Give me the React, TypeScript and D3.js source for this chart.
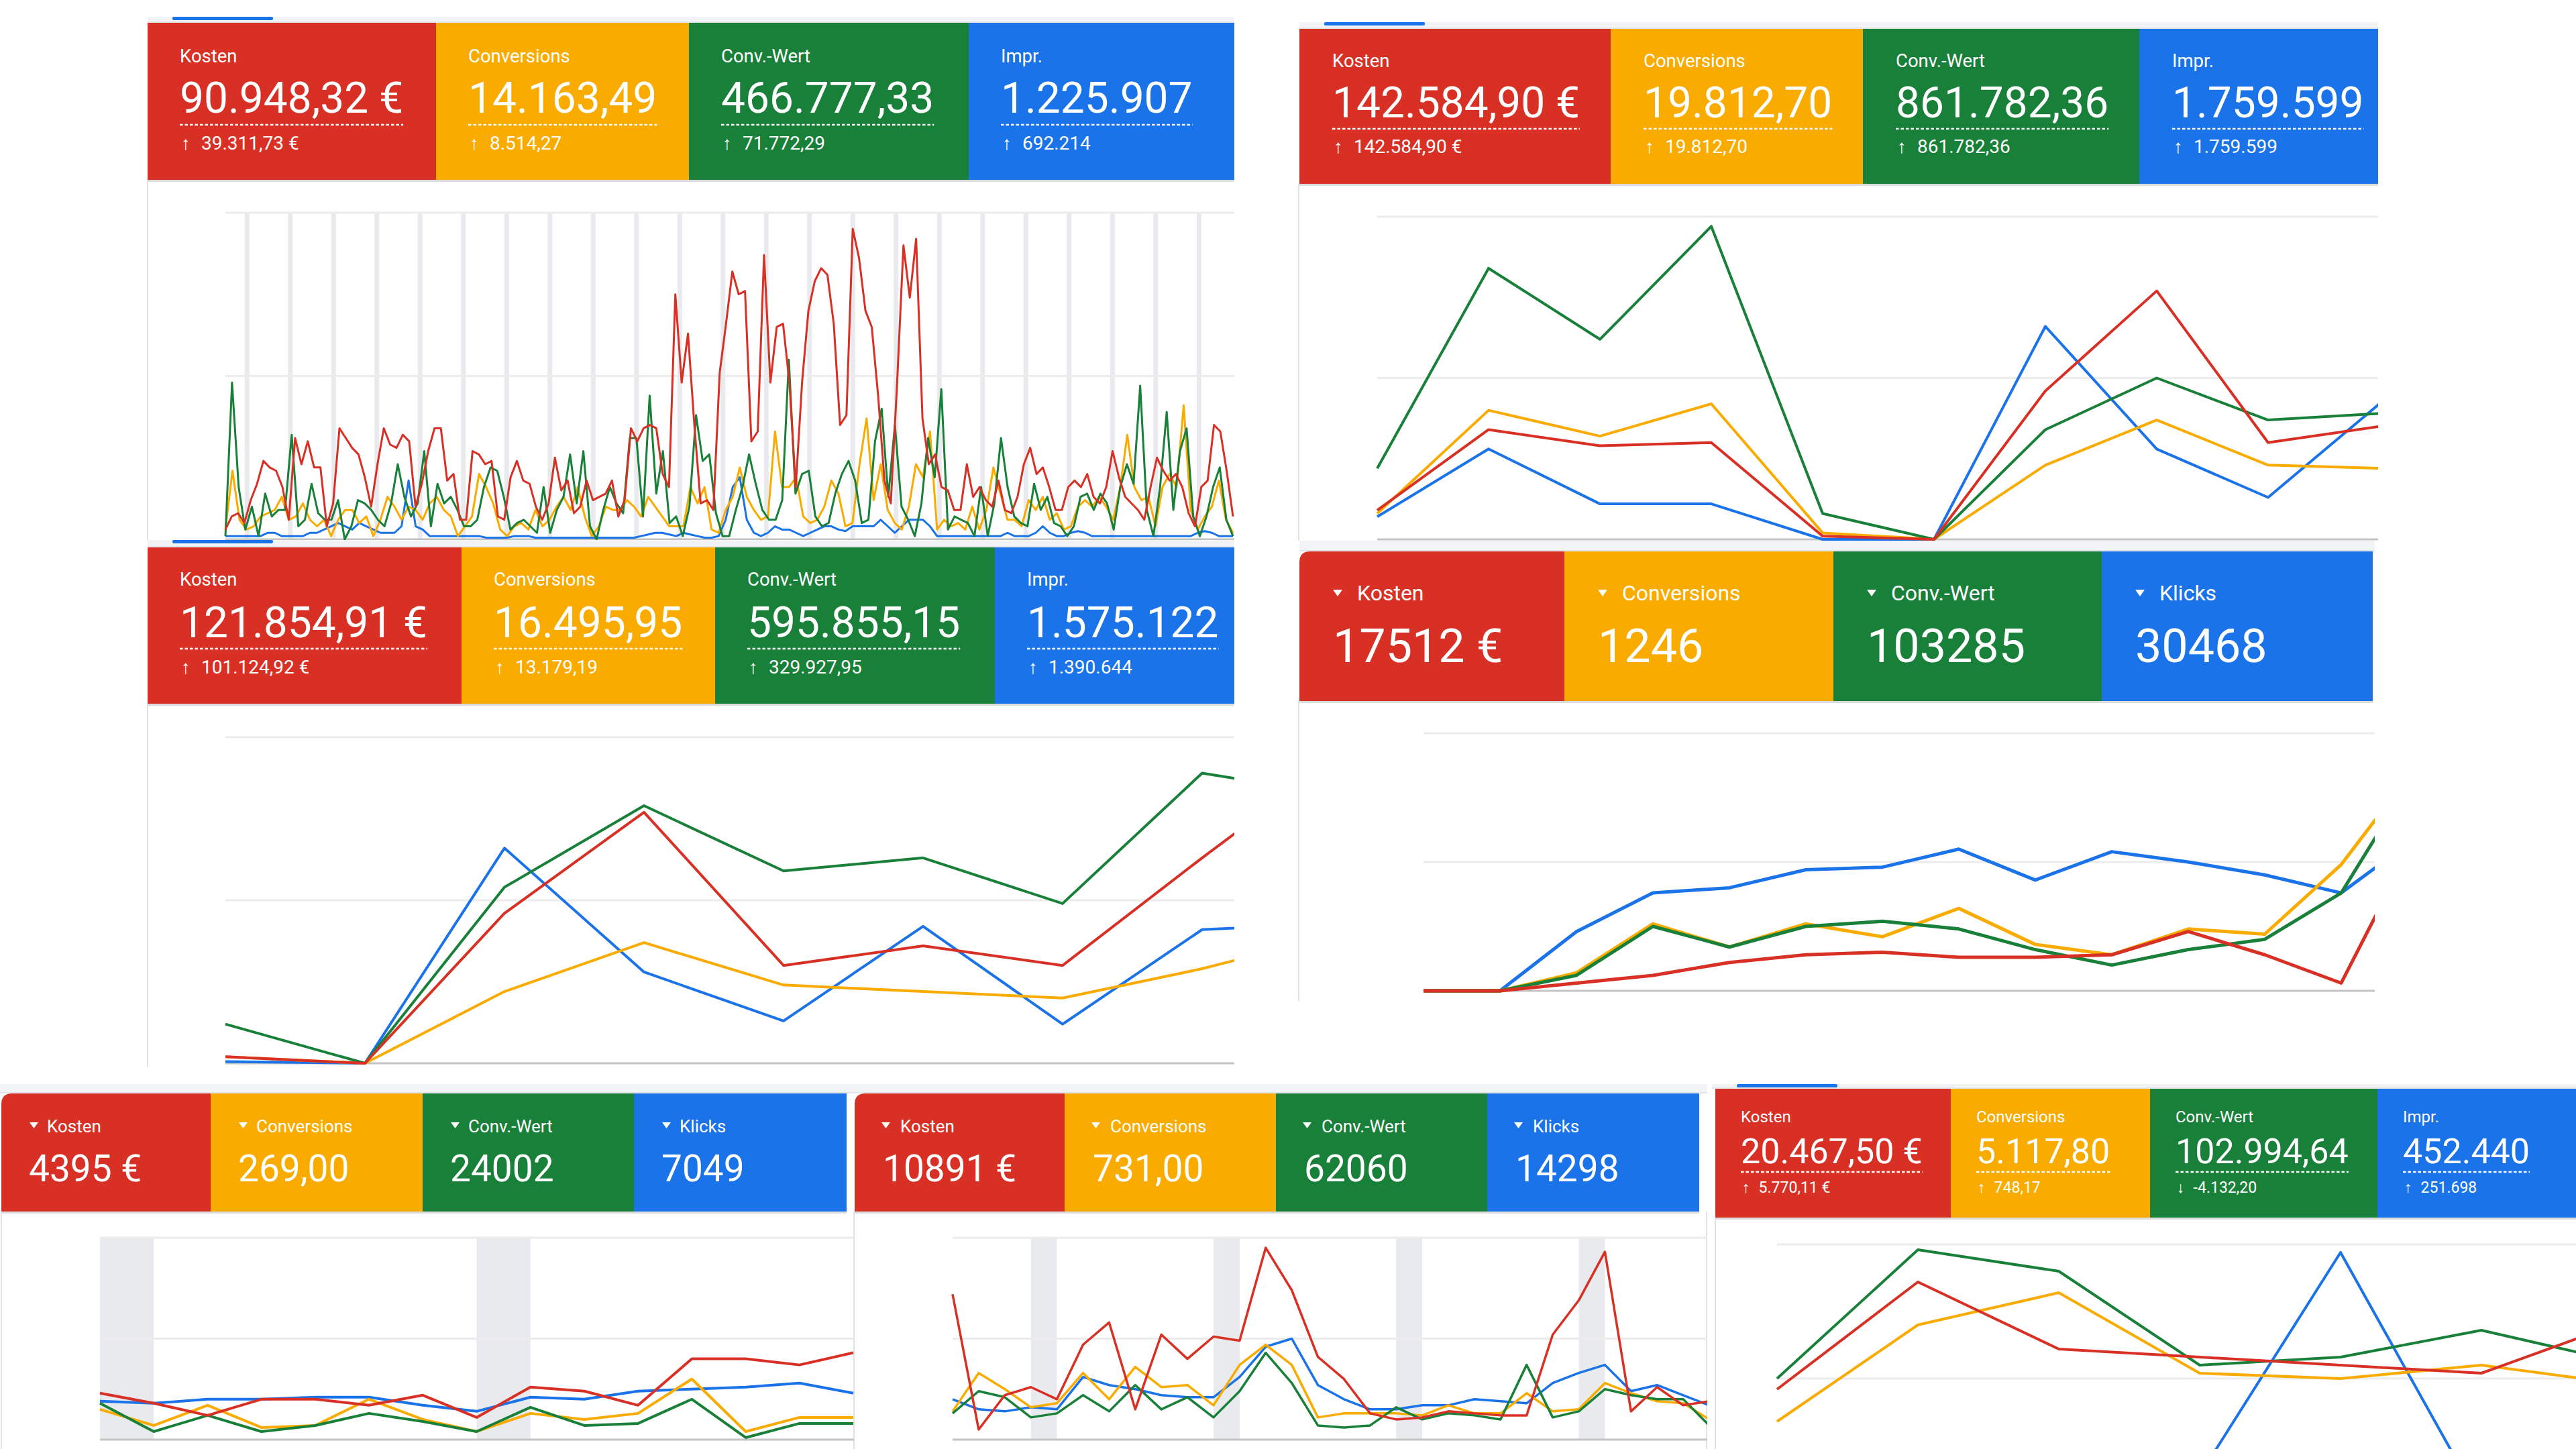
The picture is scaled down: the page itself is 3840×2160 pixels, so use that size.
import { useEffect, useRef } from 'react';
import * as d3 from 'd3';

const COLORS = ['#d93025', '#f9ab00', '#188038', '#1a73e8'];
const labelsImpr = ['Kosten', 'Conversions', 'Conv.-Wert', 'Impr.'];
const labelsKlicks = ['Kosten', 'Conversions', 'Conv.-Wert', 'Klicks'];

// Panel 1 (daily, ~164 days) – values relative to the top gridline (= 100)
const p1Values = ['90.948,32 €', '14.163,49', '466.777,33', '1.225.907'];
const p1Deltas = ['39.311,73 €', '8.514,27', '71.772,29', '692.214'];
const p1Kosten = [3, 7, 8, 5, 12, 17, 24, 22, 21, 16, 6, 31, 23, 30, 22, 22, 4, 11, 34, 31, 28, 26, 19, 10, 23, 34, 29, 28, 32, 30, 10, 17, 27, 34, 34, 18, 20, 6, 6, 27, 26, 23, 24, 7, 6, 19, 24, 18, 17, 10, 6, 11, 25, 15, 18, 8, 10, 18, 12, 13, 14, 18, 7, 12, 34, 30, 34, 35, 34, 20, 16, 75, 48, 63, 35, 11, 12, 9, 51, 66, 82, 75, 76, 30, 33, 87, 48, 65, 66, 48, 16, 48, 70, 79, 83, 81, 66, 35, 38, 95, 86, 70, 65, 44, 18, 11, 48, 90, 74, 92, 37, 23, 26, 16, 15, 9, 9, 23, 13, 16, 12, 10, 18, 9, 8, 13, 23, 28, 20, 22, 16, 9, 9, 16, 18, 16, 20, 13, 11, 16, 27, 19, 13, 11, 9, 6, 16, 25, 21, 18, 20, 16, 8, 4, 16, 18, 35, 33, 21, 7];
const p1Conv = [3, 21, 6, 3, 4, 7, 8, 9, 13, 6, 7, 11, 6, 4, 6, 1, 6, 9, 9, 5, 7, 1, 6, 13, 10, 6, 10, 9, 6, 11, 13, 9, 7, 1, 4, 7, 20, 16, 11, 3, 1, 4, 5, 3, 9, 4, 6, 10, 13, 9, 16, 7, 1, 4, 10, 9, 9, 12, 10, 7, 13, 10, 7, 4, 4, 4, 16, 11, 16, 3, 2, 9, 13, 22, 13, 9, 6, 7, 33, 16, 16, 19, 7, 5, 6, 10, 18, 14, 4, 5, 23, 37, 12, 23, 9, 5, 3, 10, 23, 19, 33, 3, 6, 4, 5, 3, 10, 3, 9, 22, 14, 6, 6, 4, 12, 9, 13, 6, 8, 3, 4, 10, 12, 10, 13, 10, 6, 16, 32, 16, 12, 13, 4, 16, 20, 16, 41, 9, 3, 7, 10, 18, 6, 2];
const p1Wert = [1, 48, 16, 3, 10, 1, 14, 7, 9, 9, 32, 4, 6, 17, 8, 6, 6, 12, 0, 4, 12, 11, 9, 6, 4, 11, 23, 13, 7, 11, 27, 4, 17, 11, 13, 9, 4, 4, 6, 16, 22, 21, 13, 3, 5, 6, 4, 2, 16, 2, 9, 13, 26, 11, 27, 4, 0, 9, 16, 11, 8, 31, 31, 7, 44, 14, 27, 5, 7, 1, 10, 38, 24, 26, 8, 1, 1, 9, 16, 26, 17, 9, 6, 6, 12, 55, 14, 20, 21, 7, 4, 5, 14, 20, 24, 18, 5, 6, 30, 40, 13, 35, 10, 6, 1, 11, 31, 19, 46, 3, 7, 6, 5, 1, 16, 1, 11, 31, 16, 7, 5, 4, 17, 9, 13, 5, 4, 1, 4, 13, 14, 9, 14, 11, 3, 16, 23, 17, 47, 9, 1, 16, 39, 9, 27, 34, 7, 1, 7, 16, 22, 6, 1];
const p1Impr = [1, 1, 1, 1, 1, 1, 2, 2, 1, 1, 1, 1, 2, 2, 3, 4, 5, 4, 3, 5, 4, 3, 2, 2, 2, 4, 18, 4, 3, 1, 1, 1, 1, 1, 1, 1, 1, 0.5, 0.5, 0.5, 0.5, 1, 1, 1, 0.5, 0.5, 0.5, 0.5, 0.5, 0.5, 0.5, 0.5, 0.5, 0.5, 0.5, 0.5, 0.5, 0.5, 0.5, 1, 1.5, 2, 2, 1.5, 1, 2, 1.5, 1, 0.5, 0.5, 1, 6, 16, 19, 6, 2, 1, 2, 4, 3, 3, 2, 1, 2, 3, 4, 4, 3, 2.5, 4, 4, 4, 4, 6, 4, 2, 4, 6, 6, 6, 4, 1, 1, 1, 1, 1, 1, 1, 1, 1, 1, 2, 1, 1, 1, 2, 4, 2, 1, 1, 2, 2.5, 2, 1, 1, 1, 1, 1, 1, 1, 1, 1, 1, 1, 1, 1, 1, 1, 2, 2.5, 2, 1, 1, 1];

// Panel 2 (10 months)
const p2Values = ['142.584,90 €', '19.812,70', '861.782,36', '1.759.599'];
const p2Deltas = ['142.584,90 €', '19.812,70', '861.782,36', '1.759.599'];
const p2Kosten = [9, 34, 29, 30, 1, 0, 46, 77, 30, 35];
const p2Conv = [8, 40, 32, 42, 2, 0, 23, 37, 23, 22];
const p2Wert = [22, 84, 62, 97, 8, 0, 34, 50, 37, 39];
const p2Impr = [7, 28, 11, 11, 0, 0, 66, 28, 13, 42];

// Panel 3 (9 months, last one cut off)
const p3Values = ['121.854,91 €', '16.495,95', '595.855,15', '1.575.122'];
const p3Deltas = ['101.124,92 €', '13.179,19', '329.927,95', '1.390.644'];
const p3Kosten = [2, 0, 46, 77, 30, 36, 30, 63, 95];
const p3Conv = [2, 0, 22, 37, 24, 22, 20, 29, 40];
const p3Wert = [12, 0, 54, 79, 59, 63, 49, 89, 82];
const p3Impr = [0.5, 0, 66, 28, 13, 42, 12, 41, 43];

// Panel 4 (14 weeks)
const p4Values = ['17512 €', '1246', '103285', '30468'];
const p4Kosten = [0, 0, 3, 6, 11, 14, 15, 13, 13, 14, 23, 14, 3, 61];
const p4Conv = [0, 0, 7, 26, 17, 26, 21, 32, 18, 14, 24, 22, 49, 88];
const p4Wert = [0, 0, 6, 25, 17, 25, 27, 24, 16, 10, 16, 20, 38, 86];
const p4Klicks = [0, 0, 23, 38, 40, 47, 48, 55, 43, 54, 50, 45, 38, 60];

// Panel 5 (15 days)
const p5Values = ['4395 €', '269,00', '24002', '7049'];
const p5Kosten = [23, 18, 12, 20, 20, 17, 22, 11, 26, 24, 17, 40, 40, 37, 43];
const p5Conv = [15, 7, 17, 6, 7, 20, 10, 4, 13, 10, 13, 30, 4, 11, 11];
const p5Wert = [18, 4, 12, 4, 7, 13, 9, 4, 16, 7, 8, 20, 1, 8, 8];
const p5Klicks = [19, 18, 20, 20, 21, 21, 17, 14, 21, 20, 24, 25, 26, 28, 23];

// Panel 6 (30 days)
const p6Values = ['10891 €', '731,00', '62060', '14298'];
const p6Kosten = [72, 5, 22, 26, 20, 47, 58, 15, 52, 40, 51, 49, 95, 74, 41, 30, 13, 10, 11, 14, 13, 12, 12, 52, 69, 93, 14, 26, 17, 19];
const p6Conv = [14, 33, 25, 16, 18, 33, 20, 36, 26, 27, 17, 37, 47, 37, 11, 13, 13, 13, 12, 17, 13, 13, 23, 14, 15, 28, 23, 19, 18, 10];
const p6Wert = [13, 24, 21, 11, 13, 22, 14, 27, 15, 21, 11, 24, 43, 28, 7, 6, 7, 16, 10, 13, 12, 10, 37, 11, 14, 25, 22, 20, 20, 7];
const p6Klicks = [20, 15, 14, 16, 15, 31, 27, 25, 22, 21, 21, 31, 46, 50, 27, 20, 15, 15, 17, 17, 20, 19, 18, 28, 33, 37, 24, 27, 22, 17];

// Panel 7 (7 points, cut off at the right and bottom)
const p7Values = ['20.467,50 €', '5.117,80', '102.994,64', '452.440'];
const p7Deltas = ['5.770,11 €', '748,17', '-4.132,20', '251.698'];
const p7Kosten = [46, 86, 61, 58, 55, 52, 71];
const p7Conv = [34, 70, 82, 52, 50, 55, 48];
const p7Wert = [50, 98, 90, 55, 58, 68, 56];
const p7Impr = [5, 10, 6, 14, 97, 3, 4];

interface Panel {
  left: number; right: number;
  stripTop: number; cardTop: number; cardBottom: number;
  splits: number[];
  tab: boolean; rounded: boolean; dropdown: boolean;
  labels: string[]; values: string[]; deltas?: string[];
  labelX: number; valueX: number; triX?: number; triTop?: number; triW?: number; triH?: number;
  labelY: number; valueY: number; dotY?: number; subY?: number;
  labelSize: number; valueSize: number; subSize?: number;
  plotLeft: number; plotRight: number; gridTop: number; gridBase: number; chartBottom: number;
  borders: number[];
  series: number[][];
  days?: number; bandStart?: number; bandFrac?: number;
  strokeW: number;
}

const panels: Panel[] = [
  {
    left: 220, right: 1840, stripTop: 25, cardTop: 34, cardBottom: 268,
    splits: [220, 650, 1027, 1444, 1840], tab: true, rounded: false, dropdown: false,
    labels: labelsImpr, values: p1Values, deltas: p1Deltas,
    labelX: 48, valueX: 48, labelY: 93, valueY: 168, dotY: 186, subY: 223,
    labelSize: 27.5, valueSize: 64, subSize: 28,
    plotLeft: 336, plotRight: 1838, gridTop: 317, gridBase: 804, chartBottom: 806,
    borders: [220], series: [p1Kosten, p1Conv, p1Wert, p1Impr],
    days: 164, bandStart: 3, bandFrac: 0.75, strokeW: 3,
  },
  {
    left: 1937, right: 3545, stripTop: 33, cardTop: 43, cardBottom: 274,
    splits: [1937, 2401, 2777, 3189, 3545], tab: true, rounded: false, dropdown: false,
    labels: labelsImpr, values: p2Values, deltas: p2Deltas,
    labelX: 49, valueX: 49, labelY: 100, valueY: 175, dotY: 192, subY: 228,
    labelSize: 27.5, valueSize: 64, subSize: 28,
    plotLeft: 2053, plotRight: 3547, gridTop: 323, gridBase: 804, chartBottom: 806,
    borders: [1936], series: [p2Kosten, p2Conv, p2Wert, p2Impr], strokeW: 4,
  },
  {
    left: 220, right: 1840, stripTop: 805, cardTop: 816, cardBottom: 1049,
    splits: [220, 688, 1066, 1483, 1840], tab: true, rounded: false, dropdown: false,
    labels: labelsImpr, values: p3Values, deltas: p3Deltas,
    labelX: 48, valueX: 48, labelY: 873, valueY: 950, dotY: 967, subY: 1004,
    labelSize: 27.5, valueSize: 64, subSize: 28,
    plotLeft: 336, plotRight: 2000, gridTop: 1099, gridBase: 1585, chartBottom: 1590,
    borders: [220], series: [p3Kosten, p3Conv, p3Wert, p3Impr], strokeW: 4,
  },
  {
    left: 1937, right: 3540, stripTop: 806, cardTop: 822, cardBottom: 1045,
    splits: [1937, 2332, 2733, 3133, 3537], tab: false, rounded: true, dropdown: true,
    labels: labelsKlicks, values: p4Values,
    labelX: 86, valueX: 50, triX: 50, triTop: 879, triW: 14, triH: 10,
    labelY: 895, valueY: 987, labelSize: 32, valueSize: 70,
    plotLeft: 2122, plotRight: 3604, gridTop: 1093, gridBase: 1477, chartBottom: 1492,
    borders: [1936], series: [p4Kosten, p4Conv, p4Wert, p4Klicks], strokeW: 5,
  },
  {
    left: 0, right: 1273, stripTop: 1616, cardTop: 1630, cardBottom: 1806,
    splits: [2, 314, 630, 945, 1262], tab: false, rounded: true, dropdown: true,
    labels: labelsKlicks, values: p5Values,
    labelX: 68, valueX: 41, triX: 42, triTop: 1673, triW: 13, triH: 9,
    labelY: 1688, valueY: 1761, labelSize: 26, valueSize: 55,
    plotLeft: 149, plotRight: 1272, gridTop: 1845, gridBase: 2146, chartBottom: 2160,
    borders: [2, 1273], series: [p5Kosten, p5Conv, p5Wert, p5Klicks],
    days: 15, bandStart: 0, bandFrac: 1, strokeW: 4,
  },
  {
    left: 1273, right: 2545, stripTop: 1616, cardTop: 1630, cardBottom: 1806,
    splits: [1274, 1587, 1902, 2217, 2533], tab: false, rounded: true, dropdown: true,
    labels: labelsKlicks, values: p6Values,
    labelX: 68, valueX: 42, triX: 40, triTop: 1673, triW: 13, triH: 9,
    labelY: 1688, valueY: 1761, labelSize: 26, valueSize: 55,
    plotLeft: 1420, plotRight: 2548, gridTop: 1845, gridBase: 2146, chartBottom: 2160,
    borders: [2544], series: [p6Kosten, p6Conv, p6Wert, p6Klicks],
    days: 30, bandStart: 3, bandFrac: 1, strokeW: 3.5,
  },
  {
    left: 2552, right: 3840, stripTop: 1616, cardTop: 1623, cardBottom: 1815,
    splits: [2557, 2908, 3205, 3544, 3840], tab: true, rounded: false, dropdown: false,
    labels: labelsImpr, values: p7Values, deltas: p7Deltas,
    labelX: 38, valueX: 38, labelY: 1673, valueY: 1734, dotY: 1747, subY: 1778,
    labelSize: 24, valueSize: 52, subSize: 23,
    plotLeft: 2649, plotRight: 3909, gridTop: 1855, gridBase: 2255, chartBottom: 2160,
    borders: [2557], series: [p7Kosten, p7Conv, p7Wert, p7Impr], strokeW: 4,
  },
];

const FONT = 'Roboto, "Noto Sans", sans-serif';

function drawPanel(svg: d3.Selection<SVGSVGElement, unknown, null, undefined>, p: Panel, idx: number) {
  const g = svg.append('g').attr('class', `panel-${idx}`);
  const width = p.right - p.left;

  // tab strip above the scorecards
  g.append('rect').attr('x', p.left).attr('y', p.stripTop).attr('width', width)
    .attr('height', p.cardTop - p.stripTop).attr('fill', '#f1f3f4');
  g.append('rect').attr('x', p.left).attr('y', p.cardTop - 2).attr('width', width)
    .attr('height', 2).attr('fill', '#e3e5e8');
  if (p.tab) {
    g.append('rect').attr('x', p.left + 37).attr('y', p.stripTop).attr('width', 150)
      .attr('height', 5).attr('rx', 2).attr('fill', '#1a73e8');
  }

  // scorecards
  p.labels.forEach((label, i) => {
    const x0 = p.splits[i];
    const x1 = p.splits[i + 1];
    if (i === 0 && p.rounded) {
      const r = 16;
      g.append('path')
        .attr('d', `M${x0},${p.cardBottom}L${x0},${p.cardTop + r}Q${x0},${p.cardTop} ${x0 + r},${p.cardTop}L${x1},${p.cardTop}L${x1},${p.cardBottom}Z`)
        .attr('fill', COLORS[i]);
    } else {
      g.append('rect').attr('x', x0).attr('y', p.cardTop).attr('width', x1 - x0)
        .attr('height', p.cardBottom - p.cardTop).attr('fill', COLORS[i]);
    }

    if (p.dropdown) {
      const tx = x0 + (p.triX || 0);
      const ty = p.triTop || 0;
      const tw = p.triW || 0;
      g.append('path')
        .attr('d', `M${tx},${ty}L${tx + tw},${ty}L${tx + tw / 2},${ty + (p.triH || 0)}Z`)
        .attr('fill', '#fff');
    }
    g.append('text').attr('x', x0 + p.labelX).attr('y', p.labelY)
      .attr('fill', '#fff').attr('font-size', p.labelSize).text(label);

    const val = g.append('text').attr('x', x0 + p.valueX).attr('y', p.valueY)
      .attr('fill', '#fff').attr('font-size', p.valueSize).text(p.values[i]);

    if (p.deltas && p.dotY && p.subY) {
      const w = (val.node() as SVGTextElement).getComputedTextLength();
      g.append('line').attr('x1', x0 + p.valueX).attr('x2', x0 + p.valueX + w)
        .attr('y1', p.dotY).attr('y2', p.dotY)
        .attr('stroke', '#fff').attr('stroke-width', 2.5).attr('stroke-dasharray', '4.5 3');
      const d = p.deltas[i];
      const fs = p.subSize || 20;
      g.append('text').attr('x', x0 + p.valueX + 2).attr('y', p.subY)
        .attr('fill', '#fff').attr('font-size', fs).text(d.startsWith('-') ? '↓' : '↑');
      g.append('text').attr('x', x0 + p.valueX + 2 + fs * 1.07).attr('y', p.subY)
        .attr('fill', '#fff').attr('font-size', fs).text(d);
    }
  });
  g.append('rect').attr('x', p.splits[0]).attr('y', p.cardBottom)
    .attr('width', p.splits[4] - p.splits[0]).attr('height', 3).attr('fill', '#dcdcdc');

  // panel borders
  p.borders.forEach(bx => {
    g.append('line').attr('x1', bx).attr('x2', bx).attr('y1', p.cardBottom).attr('y2', p.chartBottom)
      .attr('stroke', '#e2e2e2').attr('stroke-width', 2);
  });

  // chart
  const clipId = `clip-${idx}`;
  svg.select('defs').append('clipPath').attr('id', clipId)
    .append('rect').attr('x', p.left + 3).attr('y', p.cardBottom + 3)
    .attr('width', p.right - p.left - 3).attr('height', p.chartBottom - p.cardBottom - 3);
  const c = g.append('g').attr('clip-path', `url(#${clipId})`);

  const y = d3.scaleLinear().domain([0, 100]).range([p.gridBase, p.gridTop]);

  // weekend bands
  if (p.days && p.bandStart !== undefined) {
    const dx = d3.scaleLinear().domain([0, p.days - 1]).range([p.plotLeft, p.plotRight]);
    const step = dx(1) - dx(0);
    const frac = p.bandFrac || 1;
    const bands = d3.range(p.bandStart, p.days - 1, 7);
    c.selectAll('.band').data(bands).enter().append('rect')
      .attr('x', d => dx(d) + step * (1 - frac) / 2)
      .attr('y', y(100))
      .attr('width', step * frac)
      .attr('height', y(0) - y(100))
      .attr('fill', '#e8eaed');
  }

  [100, 50].forEach(v => {
    c.append('line').attr('x1', p.plotLeft).attr('x2', p.right)
      .attr('y1', y(v)).attr('y2', y(v)).attr('stroke', '#ececec').attr('stroke-width', 3);
  });
  c.append('line').attr('x1', p.plotLeft).attr('x2', p.right)
    .attr('y1', y(0)).attr('y2', y(0)).attr('stroke', '#c4c4c4').attr('stroke-width', 3);

  [3, 1, 2, 0].forEach(k => {
    const s = p.series[k];
    const x = d3.scaleLinear().domain([0, s.length - 1]).range([p.plotLeft, p.plotRight]);
    const line = d3.line<number>().x((_, i) => x(i)).y(d => y(d));
    c.append('path').datum(s).attr('d', line)
      .attr('fill', 'none').attr('stroke', COLORS[k])
      .attr('stroke-width', p.strokeW).attr('stroke-linejoin', 'round');
  });
}

const App = () => {
  const ref = useRef<SVGSVGElement | null>(null);

  useEffect(() => {
    if (!ref.current) return;
    const svg = d3.select(ref.current);
    svg.selectAll('*').remove();
    svg.append('defs');
    panels.forEach((p, i) => drawPanel(svg, p, i));
  }, []);

  return (
    <svg
      ref={ref}
      width={3840}
      height={2160}
      style={{ position: 'absolute', left: 0, top: 0, background: '#fff', fontFamily: FONT }}
    />
  );
};

export default App;
